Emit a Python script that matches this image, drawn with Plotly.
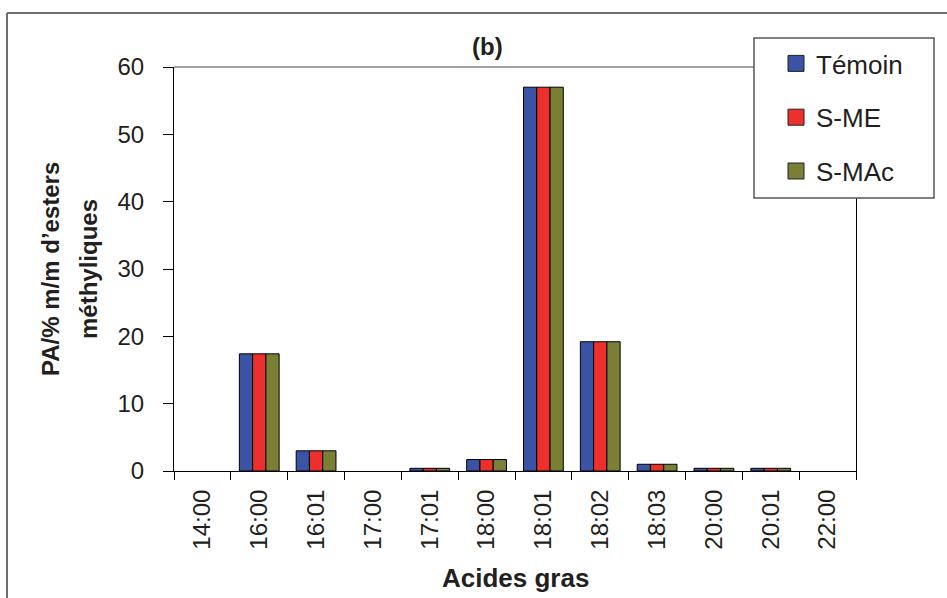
import plotly.graph_objects as go

# Fatty acid profile (peak area, % m/m of methyl esters)
acides = ["14:00", "16:00", "16:01", "17:00", "17:01", "18:00",
          "18:01", "18:02", "18:03", "20:00", "20:01", "22:00"]
temoin = [0.0, 17.4, 3.0, 0.0, 0.4, 1.7, 57.0, 19.2, 1.0, 0.4, 0.4, 0.0]
s_me = [0.0, 17.4, 3.0, 0.0, 0.4, 1.7, 57.0, 19.2, 1.0, 0.4, 0.4, 0.0]
s_mac = [0.0, 17.4, 3.0, 0.0, 0.4, 1.7, 57.0, 19.2, 1.0, 0.4, 0.4, 0.0]

series = [("Témoin", temoin, "#3A53A4"),
          ("S-ME", s_me, "#EE302C"),
          ("S-MAc", s_mac, "#7A7F35")]

FONT = "Liberation Sans, Arial, sans-serif"
TXT = "#231f20"

W, H = 947, 598
L, R, T, B = 174, 856, 67, 471


def px(x):
    return (x - L) / (R - L)


def py(y):
    return (B - y) / (B - T)


fig = go.Figure()
for name, vals, col in series:
    # no outline on empty (zero) bars
    widths = [1 if v > 0 else 0 for v in vals]
    fig.add_trace(go.Bar(
        x=acides, y=vals, name=name, legendgroup=name, showlegend=False,
        marker=dict(color=col, line=dict(color="black", width=widths)),
    ))
for name, vals, col in series:
    # legend swatch
    fig.add_trace(go.Scatter(
        x=[None], y=[None], mode="markers", name=name, legendgroup=name,
        marker=dict(symbol="square", size=16, color=col,
                    line=dict(color="#222", width=1)),
    ))

shapes = [
    # plot area top border
    dict(type="line", xref="paper", yref="paper", x0=0, x1=1, y0=1, y1=1,
         line=dict(color="#808080", width=1.5), layer="below"),
    # outer chart frame (left and top edges)
    dict(type="line", xref="paper", yref="paper", x0=px(7), x1=px(7),
         y0=py(13), y1=py(620), line=dict(color="#6e6e6e", width=2)),
    dict(type="line", xref="paper", yref="paper", x0=px(7), x1=px(960),
         y0=py(13), y1=py(13), line=dict(color="#6e6e6e", width=2)),
    # legend box
    dict(type="rect", xref="paper", yref="paper", x0=px(754), x1=px(934),
         y0=py(198), y1=py(38), fillcolor="white",
         line=dict(color="#555", width=1.5), layer="above"),
]

ann_common = dict(xref="paper", yref="paper", showarrow=False,
                  xanchor="center", yanchor="middle")
annotations = [
    dict(text="<b>(b)</b>", x=px(487), y=py(47),
         font=dict(size=24, family=FONT, color=TXT), **ann_common),
    dict(text="<b>PA/% m/m d’esters</b>", x=px(50), y=py(269),
         textangle=-90, font=dict(size=24, family=FONT, color=TXT),
         **ann_common),
    dict(text="<b>méthyliques</b>", x=px(88), y=py(269),
         textangle=-90, font=dict(size=24, family=FONT, color=TXT),
         **ann_common),
    dict(text="<b>Acides gras</b>", x=0.5, y=py(578),
         font=dict(size=26, family=FONT, color=TXT), **ann_common),
]

fig.update_layout(
    width=W, height=H,
    margin=dict(l=L, r=W - R, t=T, b=H - B, pad=0),
    paper_bgcolor="white", plot_bgcolor="white",
    font=dict(family=FONT, size=24, color=TXT),
    barmode="group", bargap=0.3, bargroupgap=0,
    shapes=shapes, annotations=annotations,
    legend=dict(
        x=px(776), y=py(40), xanchor="left", yanchor="top",
        bgcolor="rgba(0,0,0,0)", borderwidth=0,
        font=dict(size=26, family=FONT, color=TXT),
        tracegroupgap=17, itemsizing="trace",
    ),
    xaxis=dict(
        type="category", tickangle=-90, tickson="boundaries",
        ticks="outside", ticklen=8, tickcolor="black", tickwidth=1,
        showline=True, linecolor="black", linewidth=1,
        showgrid=False, zeroline=False, ticklabelstandoff=8,
        tickfont=dict(size=24, family=FONT, color=TXT),
    ),
    yaxis=dict(
        range=[0, 60], dtick=10, ticks="outside", ticklen=10,
        tickcolor="black", tickwidth=1,
        showline=True, linecolor="black", linewidth=1, mirror=True,
        showgrid=False, zeroline=False, ticklabelstandoff=14,
        tickfont=dict(size=24, family=FONT, color=TXT),
    ),
)

fig.write_html("out.html")
